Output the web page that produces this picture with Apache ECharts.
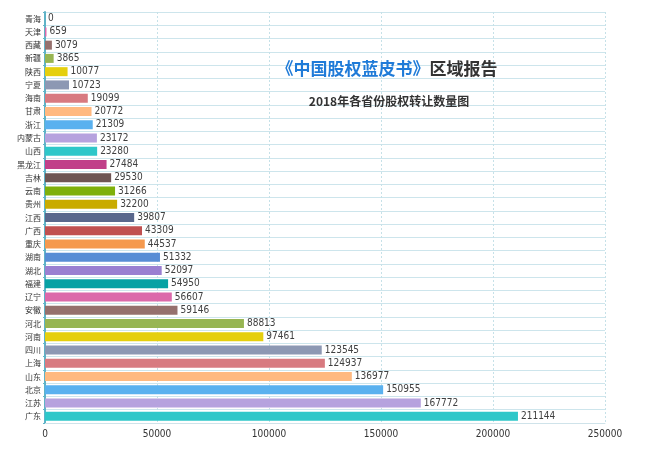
<!DOCTYPE html>
<html>
<head>
<meta charset="utf-8">
<script src="https://cdn.jsdelivr.net/npm/echarts@6/dist/echarts.min.js"></script>
<style>html,body{margin:0;padding:0;background:#fff;}#c{width:650px;height:453px;}</style>
</head>
<body>
<div id="c"></div>
<script>
var provinces = ['广东','江苏','北京','山东','上海','四川','河南','河北','安徽','辽宁','福建','湖北','湖南','重庆','广西','江西','贵州','云南','吉林','黑龙江','山西','内蒙古','浙江','甘肃','海南','宁夏','陕西','新疆','西藏','天津','青海'];
var transfers = [211144,167772,150955,136977,124937,123545,97461,88813,59146,56607,54950,52097,51332,44537,43309,39807,32200,31266,29530,27484,23280,23172,21309,20772,19099,10723,10077,3865,3079,659,0];
var palette = ['#2ec7c9','#b6a2de','#5ab1ef','#ffb980','#d87a80','#8d98b3','#e5cf0d','#97b552','#95706d','#dc69aa','#07a2a4','#9a7fd1','#588dd5','#f5994e','#c05050','#59678c','#c9ab00','#7eb00a','#6f5553','#c14089'];
var xTicks = [0,50000,100000,150000,200000,250000];

var chart = echarts.init(document.getElementById('c'));
chart.setOption({
  animation: false,
  backgroundColor: '#fff',
  title: [{
    text: '{a|《中国股权蓝皮书》}{b|区域报告}',
    left: 382, top: 55, textAlign: 'center',
    textStyle: { rich: {
      a: { color: '#1f7bd8', fontSize: 17, fontWeight: 'bold', fontFamily: 'Noto Sans CJK SC' },
      b: { color: '#333', fontSize: 17, fontWeight: 'bold', fontFamily: 'Noto Sans CJK SC' }
    }}
  }, {
    text: '2018年各省份股权转让数量图',
    left: 384, top: 90, textAlign: 'center',
    textStyle: { color: '#333', fontSize: 12, fontWeight: 'bold', fontFamily: 'Noto Sans CJK SC' }
  }],
  grid: { left: 45, right: 45, top: 12, bottom: 30, containLabel: false },
  xAxis: {
    type: 'value', min: xTicks[0], max: xTicks[xTicks.length-1], interval: 50000,
    axisLine: { show: true, lineStyle: { color: '#cfe3ea' } },
    axisTick: { show: false },
    axisLabel: { color: '#333', fontSize: 10, fontFamily: 'DejaVu Sans Condensed', margin: 6,
      formatter: function (v) { return String(v); } },
    splitLine: { show: true, lineStyle: { color: '#c6e1e8', type: [2, 2], width: 1 } }
  },
  yAxis: {
    type: 'category', data: provinces,
    axisLine: { show: true, lineStyle: { color: '#5fb3c7', width: 2 } },
    axisTick: { show: true, length: 2, lineStyle: { color: '#5fb3c7' } },
    axisLabel: { color: '#333', fontSize: 8, fontFamily: 'Noto Sans CJK SC', margin: 4 },
    splitLine: { show: true, lineStyle: { color: '#cde5ec', width: 1 } }
  },
  series: [{
    type: 'bar',
    data: transfers,
    barWidth: 9,
    itemStyle: { color: function (p) { return palette[p.dataIndex % palette.length]; } },
    label: { show: true, position: 'right', distance: 3, color: '#404040', fontSize: 10, fontFamily: 'DejaVu Sans Condensed' }
  }]
});
</script>
</body>
</html>
